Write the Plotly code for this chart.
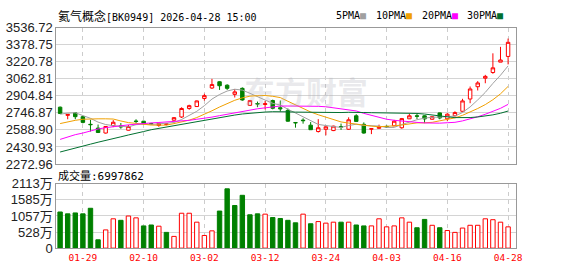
import plotly.graph_objects as go

# ---------------- data ----------------
dates = ["01-26", "01-27", "01-28", "01-29", "01-30", "02-02", "02-03", "02-04", "02-05", "02-06",
         "02-09", "02-10", "02-11", "02-12", "02-13", "02-24", "02-25", "02-26", "02-27", "03-02",
         "03-03", "03-04", "03-05", "03-06", "03-09", "03-10", "03-11", "03-12", "03-13", "03-16",
         "03-17", "03-18", "03-19", "03-20", "03-23", "03-24", "03-25", "03-26", "03-27", "03-30",
         "03-31", "04-01", "04-02", "04-03", "04-07", "04-08", "04-09", "04-10", "04-13", "04-14",
         "04-15", "04-16", "04-17", "04-20", "04-21", "04-22", "04-23", "04-24", "04-27", "04-28"]

opens = [2800, 2724, 2747, 2712, 2641, 2606, 2560, 2628, 2627, 2586,
         2671, 2670, 2648, 2630, 2640, 2679, 2709, 2788, 2806, 2881,
         2978, 3036, 3004, 2919, 2975, 2817, 2834, 2825, 2862, 2795,
         2771, 2658, 2680, 2633, 2574, 2595, 2583, 2620, 2595, 2720,
         2641, 2596, 2604, 2622, 2627, 2609, 2692, 2720, 2720, 2688,
         2747, 2692, 2720, 2762, 2876, 2990, 3069, 3122, 3218, 3271]
highs = [2806, 2736, 2752, 2720, 2683, 2639, 2625, 2680, 2653, 2635,
         2688, 2673, 2655, 2656, 2652, 2707, 2799, 2823, 2862, 2925,
         3063, 3040, 3013, 2968, 2984, 2865, 2852, 2858, 2870, 2862,
         2788, 2660, 2697, 2662, 2689, 2620, 2628, 2648, 2706, 2735,
         2659, 2602, 2638, 2630, 2682, 2700, 2740, 2740, 2725, 2716,
         2750, 2745, 2762, 2878, 2992, 3042, 3100, 3300, 3360, 3437]
lows = [2738, 2688, 2688, 2650, 2574, 2560, 2555, 2615, 2600, 2583,
        2653, 2640, 2635, 2618, 2632, 2675, 2700, 2776, 2803, 2861,
        2969, 2960, 2960, 2890, 2860, 2812, 2800, 2779, 2780, 2760,
        2665, 2610, 2647, 2590, 2565, 2539, 2578, 2589, 2589, 2665,
        2554, 2550, 2600, 2608, 2625, 2600, 2690, 2690, 2652, 2684,
        2688, 2670, 2715, 2758, 2837, 2955, 3022, 3110, 3218, 3197]
closes = [2741, 2733, 2712, 2659, 2638, 2565, 2621, 2660, 2618, 2621,
          2668, 2647, 2643, 2650, 2645, 2703, 2788, 2814, 2858, 2907,
          3010, 2999, 2975, 2942, 2867, 2861, 2830, 2832, 2790, 2785,
          2670, 2655, 2675, 2591, 2609, 2618, 2624, 2616, 2683, 2668,
          2560, 2600, 2614, 2618, 2670, 2694, 2720, 2716, 2691, 2712,
          2700, 2735, 2750, 2858, 2969, 3025, 3086, 3165, 3238, 3402]

# volume in 万
volumes = [1188, 1127, 1157, 1127, 1310, 274, 599, 964, 914, 1056,
           995, 731, 761, 721, 518, 386, 1147, 1147, 853, 416,
           568, 1218, 1949, 1401, 1736, 1096, 1127, 1117, 1005, 974,
           914, 832, 1117, 802, 873, 822, 853, 853, 853, 761,
           731, 731, 964, 700, 731, 995, 853, 670, 944, 751,
           670, 579, 518, 660, 751, 751, 964, 934, 853, 699.7862]

ma5 = [2735, 2745, 2748, 2722, 2696.6, 2661.4, 2639.0, 2628.6, 2620.4, 2617.0,
       2637.6, 2642.8, 2639.4, 2645.8, 2650.6, 2657.6, 2685.8, 2720.0, 2761.6, 2814.0,
       2875.4, 2917.6, 2949.8, 2966.6, 2958.6, 2928.8, 2895.0, 2866.4, 2836.0, 2819.6,
       2781.4, 2746.4, 2715.0, 2675.2, 2640.0, 2629.6, 2623.4, 2611.6, 2630.0, 2641.8,
       2630.2, 2625.4, 2625.0, 2612.0, 2612.4, 2639.2, 2663.2, 2683.6, 2698.2, 2706.6,
       2707.8, 2710.8, 2717.6, 2751.0, 2802.4, 2867.4, 2937.6, 3020.6, 3096.6, 3183.2]
ma10 = [2648, 2665, 2678, 2688, 2692, 2692, 2692, 2690, 2672, 2656.8,
        2649.5, 2640.9, 2634.0, 2633.1, 2633.8, 2647.6, 2664.3, 2679.7, 2703.7, 2732.3,
        2766.5, 2801.7, 2834.9, 2864.1, 2886.3, 2902.1, 2906.3, 2908.1, 2901.3, 2889.1,
        2855.1, 2820.7, 2790.7, 2755.6, 2729.8, 2705.5, 2684.9, 2663.3, 2652.6, 2640.9,
        2629.9, 2624.4, 2618.3, 2621.0, 2627.1, 2634.7, 2644.3, 2654.3, 2655.1, 2659.5,
        2673.5, 2687.0, 2700.6, 2724.6, 2754.5, 2787.6, 2824.2, 2869.1, 2923.8, 2992.8]
ma20 = [2501, 2526, 2545, 2560, 2580, 2598, 2610, 2620, 2628, 2636,
        2642, 2650, 2654, 2658, 2662, 2665, 2670, 2678, 2688, 2694.6,
        2708.0, 2721.3, 2734.5, 2748.6, 2760.1, 2774.9, 2785.3, 2793.9, 2802.5, 2810.7,
        2810.8, 2811.2, 2812.8, 2809.9, 2808.1, 2803.8, 2795.6, 2785.7, 2777.0, 2765.0,
        2742.5, 2722.6, 2704.5, 2688.3, 2678.5, 2670.1, 2664.6, 2658.8, 2653.9, 2650.2,
        2651.7, 2655.7, 2659.5, 2672.8, 2690.8, 2711.2, 2734.3, 2761.7, 2789.5, 2826.2]
ma30 = [2384, 2404, 2422, 2439, 2457, 2475, 2490, 2507, 2525, 2542,
        2556, 2574, 2591, 2604, 2615, 2627, 2636, 2649, 2663, 2677,
        2690, 2703, 2716, 2727, 2737, 2745, 2751, 2755, 2758, 2759.4,
        2757.0, 2754.4, 2753.2, 2750.9, 2750.0, 2751.7, 2751.8, 2750.4, 2752.5, 2754.1,
        2750.5, 2748.9, 2748.0, 2746.9, 2747.7, 2747.4, 2745.2, 2741.9, 2736.3, 2729.8,
        2719.5, 2710.7, 2703.2, 2700.4, 2703.8, 2709.3, 2717.8, 2728.9, 2743.8, 2764.4]

price_tick_labels = ["2272.96", "2430.93", "2588.90", "2746.87", "2904.84",
                     "3062.81", "3220.78", "3378.75", "3536.72"]
vol_tick_labels = ["0", "528万", "1057万", "1585万", "2113万"]
x_tick_labels = ["01-29", "02-10", "03-02", "03-12", "03-24", "04-03", "04-16", "04-28"]

title_cjk = "氦气概念"
title_rest = "[BK0949] 2026-04-28 15:00"
vol_title_cjk = "成交量"
vol_title_rest = ":6997862"
watermark = "东方财富"
ma_names = ["5PMA", "10PMA", "20PMA", "30PMA"]

# ---------------- styles ----------------
RED = "#ff0000"
GREEN = "#008000"
MA_COLORS = ["#a0a0a0", "#f0a000", "#ff00ff", "#007030"]
W, H = 578, 276
X_DOM = [57 / W, 522 / W]
Y_PRICE = [1 - 166 / H, 1 - 22 / H]
Y_VOL = [1 - 255 / H, 1 - 187 / H]
BORDER = "#999999"
GRID = "#d4d4d4"
LABEL_FONT = dict(family="Liberation Sans, Arial, Noto Sans CJK SC", size=13, color="#222222")
MONO = "DejaVu Sans Mono"
CJK = "Noto Sans CJK SC"

n = len(dates)
vol_up = [closes[0] >= opens[0]] + [closes[i] >= closes[i - 1] for i in range(1, n)]
vol_fill = ["#ffffff" if u else GREEN for u in vol_up]
vol_edge = [RED if u else GREEN for u in vol_up]

price_vals = [float(s) for s in price_tick_labels]
vol_vals = [float(s.replace("万", "")) for s in vol_tick_labels]

fig = go.Figure()

fig.add_trace(go.Candlestick(
    x=dates, open=opens, high=highs, low=lows, close=closes,
    increasing=dict(line=dict(color=RED, width=1), fillcolor="#ffffff"),
    decreasing=dict(line=dict(color=GREEN, width=1), fillcolor=GREEN),
    whiskerwidth=0, xaxis="x", yaxis="y", hoverinfo="skip", showlegend=False))

for arr, col in zip([ma5, ma10, ma20, ma30], MA_COLORS):
    fig.add_trace(go.Scatter(x=dates, y=arr, mode="lines", line=dict(color=col, width=1),
                             xaxis="x", yaxis="y", hoverinfo="skip", showlegend=False))

fig.add_trace(go.Bar(x=dates, y=volumes, width=0.58,
                     marker=dict(color=vol_fill, line=dict(color=vol_edge, width=1)),
                     xaxis="x2", yaxis="y2", hoverinfo="skip", showlegend=False))

common_x = dict(domain=X_DOM, type="category", range=[-0.5, 60], tickvals=x_tick_labels,
                showgrid=True, gridcolor="#cccccc", griddash="4px,4px", gridwidth=1,
                showline=True, linecolor=BORDER, linewidth=1, mirror=True, ticks="",
                fixedrange=True)

fig.update_layout(
    width=W, height=H, margin=dict(l=0, r=0, t=0, b=0),
    paper_bgcolor="white", plot_bgcolor="white", showlegend=False, boxgap=0.35,
    bargap=0.3,
    xaxis=dict(common_x, anchor="y", showticklabels=False, rangeslider=dict(visible=False)),
    xaxis2=dict(common_x, anchor="y2", matches="x", ticktext=x_tick_labels,
                tickfont=dict(family=MONO, size=9.5, color=RED)),
    yaxis=dict(domain=Y_PRICE, range=[price_vals[0], price_vals[-1]], tickvals=price_vals,
               ticktext=price_tick_labels, showgrid=True, gridcolor=GRID, zeroline=False,
               showline=True, linecolor=BORDER, mirror=True, ticks="", tickfont=LABEL_FONT,
               fixedrange=True),
    yaxis2=dict(domain=Y_VOL, range=[vol_vals[0], vol_vals[-1]], tickvals=vol_vals,
                ticktext=vol_tick_labels, showgrid=True, gridcolor=GRID, zeroline=False,
                showline=True, linecolor=BORDER, mirror=True, ticks="", tickfont=LABEL_FONT,
                fixedrange=True),
)

annos = []
annos.append(dict(
    xref="paper", yref="paper", x=57 / W, y=1 - 9.5 / H, xanchor="left", yanchor="middle",
    showarrow=False,
    text=f"<span style='font-family:{CJK};font-size:12px'>{title_cjk}</span>{title_rest}",
    font=dict(family=MONO, size=10, color="#000000")))
annos.append(dict(
    xref="paper", yref="paper", x=57 / W, y=1 - 177.5 / H, xanchor="left", yanchor="middle",
    showarrow=False,
    text=f"<span style='font-family:{CJK};font-size:11px'>{vol_title_cjk}</span>{vol_title_rest}",
    font=dict(family=MONO, size=11, color="#000000")))
leg_x = [338, 379, 425, 471]
for name, col, lx in zip(ma_names, MA_COLORS, leg_x):
    annos.append(dict(
        xref="paper", yref="paper", x=lx / W, y=1 - 9.5 / H, xanchor="left", yanchor="middle",
        showarrow=False,
        text=f"{name}<span style='color:{col}'>■</span>",
        font=dict(family=MONO, size=10, color="#000000")))
annos.append(dict(
    xref="paper", yref="paper", x=310 / W, y=1 - 88.5 / H, xanchor="center", yanchor="middle",
    showarrow=False, text=f"<b>{watermark}</b>",
    font=dict(family=CJK, size=31, color="rgba(170,170,180,0.25)")))
fig.update_layout(annotations=annos)

fig.write_html("out.html", config={"displayModeBar": False})
